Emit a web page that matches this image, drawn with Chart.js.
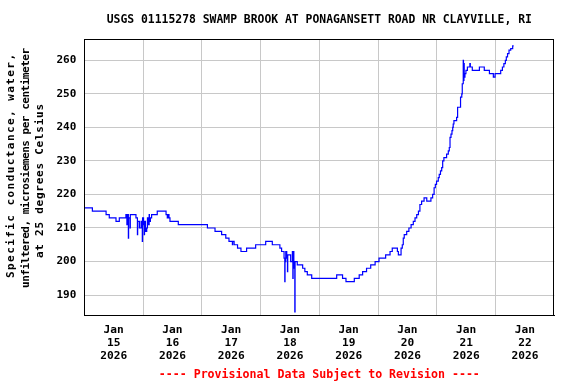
<!DOCTYPE html>
<html>
<head>
<meta charset="utf-8">
<script src="https://cdn.jsdelivr.net/npm/chart.js@4/dist/chart.umd.min.js"></script>
<style>
html,body{margin:0;padding:0;background:#ffffff;}
#wrap{width:576px;height:384px;}
</style>
</head>
<body>
<div id="wrap"><canvas id="c" width="576" height="384"></canvas></div>
<script>
// ---- text ----
const titleText = "USGS 01115278 SWAMP BROOK AT PONAGANSETT ROAD NR CLAYVILLE, RI";
const yTitleLines = ["Specific conductance, water,", "unfiltered, microsiemens per centimeter", "at 25 degrees Celsius"];
const footerText = "---- Provisional Data Subject to Revision ----";
const monthLabel = "Jan";
const yearLabel = "2026";
const dayLabels = ["15", "16", "17", "18", "19", "20", "21", "22"];
const yTicks = [190, 200, 210, 220, 230, 240, 250, 260];

// ---- data: hours since Jan 15 00:00, value starting at that time ----
const hours = [
  0, 3.3, 8.9, 10.2, 12.95, 14.3, 17.0, 17.4, 17.5, 18.0, 18.1, 18.7, 18.8, 19.35,
  21.1, 21.7, 21.8, 22.5, 23.2, 23.7, 23.8, 24.2, 24.5, 24.6, 25.0, 25.5, 25.8, 26.2,
  26.5, 26.6, 27.0, 27.5, 29.8, 33.4, 33.9, 34.3, 34.6, 35.0, 38.4, 50.3, 53.4, 56.1,
  57.8, 59.1, 60.5, 60.6, 61.2, 62.6, 64.0, 66.3, 70.0, 74.1, 76.8, 79.9, 80.6, 81.6,
  81.9, 82.0, 82.3, 82.7, 83.0, 83.1, 83.4, 84.3, 85.0, 85.2, 85.3, 85.6, 85.8, 86.0,
  86.1, 87.0, 89.2, 90.1, 91.1, 92.9, 103.1, 105.5, 106.9, 110.3, 112.3, 113.7, 115.3,
  117.0, 118.8, 120.4, 123.1, 124.9, 125.8, 127.9, 128.3, 129.4, 129.9, 130.3, 130.7,
  131.7, 132.6, 133.5, 134.4, 135.1, 135.8, 136.5, 137.1, 137.8, 138.8, 139.9, 141.6,
  142.3, 142.9, 143.4, 143.9, 144.6, 145.0, 145.5, 146.0, 146.4, 146.9, 148.0, 148.7,
  149.1, 149.4, 149.8, 150.2, 150.5, 150.7, 151.0, 152.1, 152.5, 153.7, 154.2, 154.4,
  154.8, 154.9, 155.1, 155.2, 155.5, 155.9, 156.5, 157.5, 157.7, 158.5, 161.4, 163.4,
  165.5, 167.1, 167.8, 170.1, 170.8, 171.4, 172.0, 172.4, 172.9, 173.5, 174.2, 175.0,
  175.4
];
const conductance = [
  216, 215, 214, 213, 212, 213, 214, 211, 214, 207, 213, 210, 214, 214,
  213, 208, 212, 210, 212, 206, 213, 211, 208, 212, 209, 210, 213, 211,
  214, 212, 213, 214, 215, 214, 213, 214, 213, 212, 211, 210, 209, 208,
  207, 206, 205, 206, 205, 204, 203, 204, 205, 206, 205, 204, 203, 201,
  194, 200, 203, 201, 197, 202, 202, 200, 203, 195, 203, 198, 200, 185,
  200, 199, 198, 197, 196, 195, 196, 195, 194, 195, 196, 197, 198,
  199, 200, 201, 202, 203, 204, 203, 202, 204, 205, 207, 208,
  209, 210, 211, 212, 213, 214, 215, 217, 218, 219, 218, 219,
  220, 222, 223, 224, 225, 226, 227, 228, 230, 231, 232, 233,
  234, 237, 238, 239, 240, 241, 242, 243, 246, 249, 250, 253,
  260, 254, 259, 255, 256, 257, 258, 259, 258, 257, 258, 257,
  256, 255, 256, 257, 258, 259, 260, 261, 262, 263, 263.5, 264.3,
  264.3
];

const FONT = "'DejaVu Sans Mono', 'Liberation Mono', monospace";

// layout of the rotated y-axis title lines: x position, vertical centre, drawn length
const yTitleX = [11.5, 26, 40.5];
const yTitleCenter = [166, 168, 181];
const yTitleLength = [224, 240, 154];

const framePlugin = {
  id: 'frame',
  afterDraw(chart) {
    const ctx = chart.ctx;
    const a = chart.chartArea;
    ctx.save();
    ctx.strokeStyle = '#000000';
    ctx.lineWidth = 1;
    const l = Math.round(a.left) + 0.5, t = Math.round(a.top) + 0.5;
    const r = Math.round(a.right) - 0.5, b = Math.round(a.bottom) - 0.5;
    ctx.strokeRect(l, t, r - l, b - t);
    // rotated y-axis title
    ctx.fillStyle = '#000000';
    ctx.font = "bold 11px " + FONT;
    ctx.textAlign = 'left';
    ctx.textBaseline = 'middle';
    yTitleLines.forEach((line, i) => {
      ctx.save();
      ctx.letterSpacing = '0px';
      const base = ctx.measureText(line).width;
      const sp = (yTitleLength[i] - base) / (line.length - 1);
      ctx.letterSpacing = sp.toFixed(2) + 'px';
      ctx.translate(yTitleX[i], yTitleCenter[i]);
      ctx.rotate(-Math.PI / 2);
      ctx.fillText(line, -yTitleLength[i] / 2, 0);
      ctx.restore();
    });
    ctx.restore();
  }
};

new Chart(document.getElementById('c'), {
  type: 'line',
  data: {
    datasets: [{
      data: hours.map((h, i) => ({ x: h, y: conductance[i] })),
      borderColor: '#0000ff',
      borderWidth: 1.2,
      pointRadius: 0,
      stepped: true,
      fill: false,
      tension: 0
    }]
  },
  options: {
    responsive: false,
    animation: false,
    devicePixelRatio: 1,
    layout: { padding: { left: 0, right: 21.7, top: 0, bottom: 0 } },
    plugins: {
      legend: { display: false },
      tooltip: { enabled: false },
      title: {
        display: true,
        text: titleText,
        fullSize: false,
        color: '#000000',
        font: { family: FONT, size: 11.4, weight: 'bold', lineHeight: 1.2 },
        padding: { top: 13.2, bottom: 12.4 }
      },
      subtitle: {
        display: true,
        position: 'bottom',
        text: footerText,
        fullSize: false,
        color: '#ff0000',
        font: { family: FONT, size: 11.6, weight: 'bold', lineHeight: 1.2 },
        padding: { top: 0, bottom: 2 }
      }
    },
    scales: {
      x: {
        type: 'linear',
        min: 0,
        max: 192,
        afterBuildTicks: (s) => {
          const t = [];
          for (let v = 0; v <= 192; v += 12) t.push({ value: v });
          s.ticks = t;
        },
        afterFit: (s) => { s.height = 52.3; },
        grid: {
          color: (c) => {
            const v = c.tick ? c.tick.value : -1;
            return (v % 24 === 0 && v > 0 && v < 192) ? '#c8c8c8' : 'rgba(0,0,0,0)';
          },
          lineWidth: 1,
          drawTicks: false
        },
        border: { display: true, color: '#000000', width: 1 },
        ticks: {
          autoSkip: false,
          maxRotation: 0,
          minRotation: 0,
          padding: 8.3,
          color: '#000000',
          font: { family: FONT, size: 11.2, weight: 'bold', lineHeight: '13px' },
          callback: (v) => {
            if (v % 24 === 12) {
              const d = dayLabels[(v - 12) / 24];
              return [monthLabel, d, yearLabel];
            }
            return '';
          }
        }
      },
      y: {
        type: 'linear',
        min: 183.83,
        max: 266.26,
        afterBuildTicks: (s) => { s.ticks = yTicks.map(v => ({ value: v })); },
        afterFit: (s) => { s.width = 84.3; },
        grid: { color: '#c8c8c8', lineWidth: 1, drawTicks: false },
        border: { display: true, color: '#000000', width: 1 },
        ticks: {
          padding: 8,
          color: '#000000',
          font: { family: FONT, size: 11, weight: 'bold' }
        }
      }
    }
  },
  plugins: [framePlugin]
});
</script>
</body>
</html>
